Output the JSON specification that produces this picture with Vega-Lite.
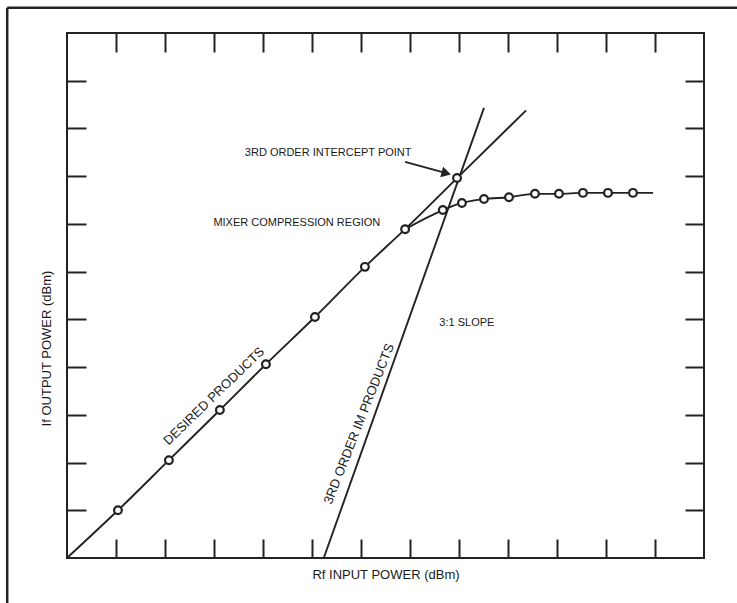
{
  "$schema": "https://vega.github.io/schema/vega-lite/v6.json",
  "width": 637,
  "height": 525,
  "autosize": "none",
  "padding": {"left": 67, "top": 33, "right": 33, "bottom": 45},
  "background": "white",
  "config": {
    "view": {"stroke": "#222222", "strokeWidth": 2},
    "font": "Liberation Sans",
    "axis": {"grid": false, "labels": false, "domain": false, "tickColor": "#222222", "tickWidth": 2, "tickSize": -19}
  },
  "datasets": {
    "curves": [
      {"series": "desired", "x": 0, "y": 0, "marker": false},
      {"series": "desired", "x": 1.04, "y": 1.0, "marker": true},
      {"series": "desired", "x": 2.08, "y": 2.05, "marker": true},
      {"series": "desired", "x": 3.12, "y": 3.1, "marker": true},
      {"series": "desired", "x": 4.06, "y": 4.06, "marker": true},
      {"series": "desired", "x": 5.06, "y": 5.05, "marker": true},
      {"series": "desired", "x": 6.08, "y": 6.1, "marker": true},
      {"series": "desired", "x": 6.9, "y": 6.89, "marker": true},
      {"series": "desired", "x": 7.96, "y": 7.96, "marker": true},
      {"series": "desired", "x": 9.37, "y": 9.38, "marker": false},
      {"series": "compression", "x": 6.9, "y": 6.89, "marker": false},
      {"series": "compression", "x": 7.67, "y": 7.29, "marker": true},
      {"series": "compression", "x": 8.06, "y": 7.44, "marker": true},
      {"series": "compression", "x": 8.51, "y": 7.52, "marker": true},
      {"series": "compression", "x": 9.02, "y": 7.56, "marker": true},
      {"series": "compression", "x": 9.55, "y": 7.63, "marker": true},
      {"series": "compression", "x": 10.04, "y": 7.63, "marker": true},
      {"series": "compression", "x": 10.53, "y": 7.65, "marker": true},
      {"series": "compression", "x": 11.04, "y": 7.65, "marker": true},
      {"series": "compression", "x": 11.55, "y": 7.65, "marker": true},
      {"series": "compression", "x": 11.96, "y": 7.65, "marker": false},
      {"series": "im3", "x": 5.24, "y": 0, "marker": false},
      {"series": "im3", "x": 8.51, "y": 9.43, "marker": false}
    ],
    "labels": [
      {"text": "3RD ORDER INTERCEPT POINT", "x": 5.33, "y": 8.49, "angle": 0, "size": 11},
      {"text": "MIXER COMPRESSION REGION", "x": 4.69, "y": 7.02, "angle": 0, "size": 11},
      {"text": "3:1 SLOPE", "x": 8.16, "y": 4.92, "angle": 0, "size": 11},
      {"text": "DESIRED PRODUCTS", "x": 3.0, "y": 3.39, "angle": -44, "size": 13},
      {"text": "3RD ORDER IM PRODUCTS", "x": 5.96, "y": 2.81, "angle": -68.5, "size": 13}
    ],
    "arrow": [
      {"x": 6.9, "y": 8.30, "x2": 7.72, "y2": 8.07}
    ],
    "arrowhead": [
      {"x": 7.74, "y": 8.06, "angle": 15.5}
    ]
  },
  "layer": [
    {
      "data": {"name": "curves"},
      "mark": {"type": "line", "color": "#222222", "strokeWidth": 1.9, "interpolate": "monotone"},
      "encoding": {
        "x": {"field": "x", "type": "quantitative", "scale": {"domain": [0, 13], "nice": false, "zero": false},
              "axis": {"orient": "bottom", "values": [1,2,3,4,5,6,7,8,9,10,11,12], "title": "Rf INPUT POWER (dBm)",
                       "titleFontSize": 13, "titleFontWeight": "normal", "titleColor": "#1a1a1a", "titleY": 20, "titleBaseline": "alphabetic"}},
        "y": {"field": "y", "type": "quantitative", "scale": {"domain": [0, 11], "nice": false, "zero": false},
              "axis": {"orient": "left", "values": [1,2,3,4,5,6,7,8,9,10], "title": "If OUTPUT POWER (dBm)",
                       "titleFontSize": 13, "titleFontWeight": "normal", "titleColor": "#1a1a1a", "titleX": -17, "titleY": 315, "titleBaseline": "alphabetic", "titleAngle": -90, "titleAlign": "center"}},
        "detail": {"field": "series"}
      }
    },
    {
      "data": {"name": "curves"},
      "transform": [{"filter": "datum.marker"}],
      "mark": {"type": "point", "shape": "circle", "filled": false, "fill": "white", "fillOpacity": 1, "stroke": "#222222", "strokeWidth": 2.2, "size": 60, "opacity": 1},
      "encoding": {
        "x": {"field": "x", "type": "quantitative", "axis": {"orient": "top", "values": [1,2,3,4,5,6,7,8,9,10,11,12], "title": null}},
        "y": {"field": "y", "type": "quantitative", "axis": {"orient": "right", "values": [1,2,3,4,5,6,7,8,9,10], "title": null}}
      }
    },
    {
      "data": {"name": "labels"},
      "mark": {"type": "text", "color": "#1a1a1a", "align": "center", "baseline": "middle"},
      "encoding": {
        "x": {"field": "x", "type": "quantitative", "axis": null},
        "y": {"field": "y", "type": "quantitative", "axis": null},
        "text": {"field": "text"},
        "size": {"field": "size", "type": "quantitative", "scale": null, "legend": null},
        "angle": {"field": "angle", "type": "quantitative", "scale": null}
      }
    },
    {
      "data": {"name": "arrow"},
      "mark": {"type": "rule", "color": "#222222", "strokeWidth": 2},
      "encoding": {
        "x": {"field": "x", "type": "quantitative", "axis": null},
        "y": {"field": "y", "type": "quantitative", "axis": null},
        "x2": {"field": "x2"},
        "y2": {"field": "y2"}
      }
    },
    {
      "data": {"name": "arrowhead"},
      "mark": {"type": "point", "shape": "triangle-right", "filled": true, "color": "#222222", "size": 120, "opacity": 1},
      "encoding": {
        "x": {"field": "x", "type": "quantitative", "axis": null},
        "y": {"field": "y", "type": "quantitative", "axis": null},
        "angle": {"field": "angle", "type": "quantitative", "scale": null}
      }
    },
    {
      "data": {"values": [{}]},
      "mark": {"type": "rule", "clip": false, "color": "#222222", "strokeWidth": 2.5},
      "encoding": {
        "x": {"datum": -1.22, "type": "quantitative", "axis": null},
        "y": {"datum": -2, "type": "quantitative", "axis": null},
        "y2": {"datum": 11.53}
      }
    },
    {
      "data": {"values": [{}]},
      "mark": {"type": "rule", "clip": false, "color": "#222222", "strokeWidth": 2.5},
      "encoding": {
        "x": {"datum": -1.22, "type": "quantitative", "axis": null},
        "x2": {"datum": 14},
        "y": {"datum": 11.53, "type": "quantitative", "axis": null}
      }
    }
  ],
  "resolve": {"axis": {"x": "independent", "y": "independent"}}
}
